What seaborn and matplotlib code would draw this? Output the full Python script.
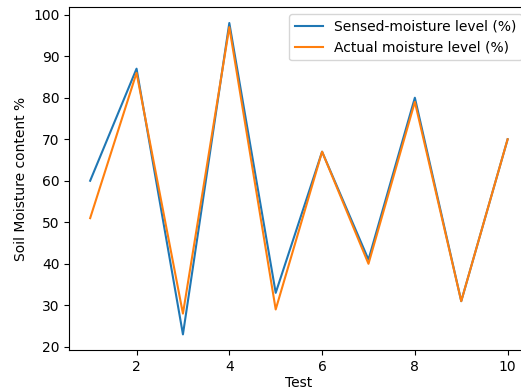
import matplotlib
matplotlib.use('Agg')
import matplotlib.pyplot as plt
import seaborn as sns
import pandas as pd

# Soil moisture readings per test
tests = [1, 2, 3, 4, 5, 6, 7, 8, 9, 10]
sensed = [60, 87, 23, 98, 33, 67, 41, 80, 31, 70]
actual = [51, 86, 28, 97, 29, 67, 40, 79, 31, 70]

df = pd.DataFrame({
    "Test": tests * 2,
    "value": sensed + actual,
    "series": ["Sensed-moisture level (%)"] * len(tests) + ["Actual moisture level (%)"] * len(tests),
})

fig, ax = plt.subplots(figsize=(5.21, 3.91), dpi=100)
sns.lineplot(data=df, x="Test", y="value", hue="series",
             palette=["#1f77b4", "#ff7f0e"], ax=ax)

ax.set_xlabel("Test", labelpad=2)
ax.set_ylabel("Soil Moisture content %")
ax.legend(loc="upper right")

# original image is cropped a bit on the right side
plt.subplots_adjust(left=0.133, right=1.0144, top=0.981, bottom=0.105)
plt.savefig("out.png", dpi=100)
plt.close()
